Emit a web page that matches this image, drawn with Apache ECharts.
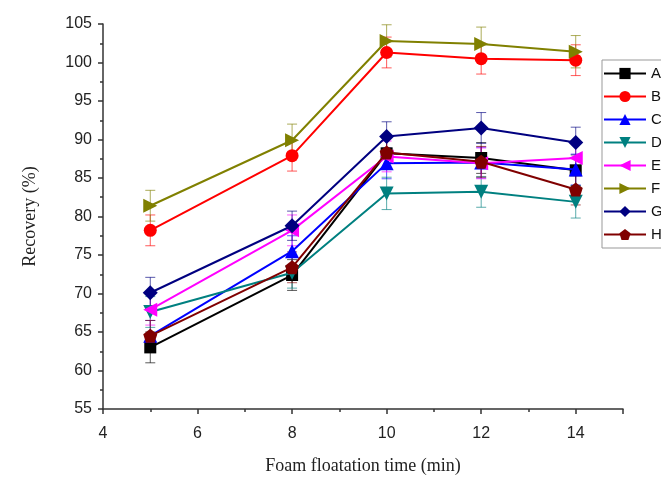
<!DOCTYPE html>
<html>
<head>
<meta charset="utf-8">
<script src="https://cdn.jsdelivr.net/npm/echarts@6/dist/echarts.min.js"></script>
<style>html,body{margin:0;padding:0;background:#fff}#c{width:661px;height:480px}</style>
</head>
<body>
<div id="c"></div>
<script>
const times = [5, 8, 10, 12, 14];
const seriesNames = ['A', 'B', 'C', 'D', 'E', 'F', 'G', 'H'];
const A = [63.0, 72.4, 88.2, 87.6, 86.0];
const B = [78.2, 87.9, 101.3, 100.5, 100.3];
const C = [64.5, 75.5, 86.9, 87.0, 86.1];
const D = [67.6, 72.7, 83.0, 83.2, 81.9];
const E = [67.9, 78.2, 87.8, 86.9, 87.6];
const F = [81.4, 89.9, 102.8, 102.4, 101.4];
const G = [70.1, 78.8, 90.4, 91.5, 89.6];
const H = [64.5, 73.4, 88.3, 87.1, 83.5];
const errA = [2.0, 2.0, 2.0, 2.0, 2.0];
const errB = [2.0, 2.0, 2.0, 2.0, 2.0];
const errC = [2.0, 2.0, 2.0, 2.0, 2.0];
const errD = [2.0, 2.0, 2.1, 2.0, 2.1];
const errE = [2.0, 2.0, 2.0, 2.0, 2.0];
const errF = [2.0, 2.1, 2.1, 2.2, 2.1];
const errG = [2.0, 1.9, 1.9, 2.0, 2.0];
const errH = [2.0, 2.0, 2.0, 2.0, 2.0];
const xTicks = [4, 6, 8, 10, 12, 14];
const yTicks = [55, 60, 65, 70, 75, 80, 85, 90, 95, 100, 105];

const values = [A, B, C, D, E, F, G, H];
const errors = [errA, errB, errC, errD, errE, errF, errG, errH];
const colors = ['#000000', '#ff0000', '#0000ff', '#008080', '#ff00ff', '#808000', '#000080', '#800000'];
const pentagon = 'path://M0,-10 L9.51,-3.09 L5.88,8.09 L-5.88,8.09 L-9.51,-3.09 Z';
const symbols = ['rect', 'circle', 'triangle', 'triangle', 'triangle', 'triangle', 'diamond', pentagon];
const rotations = [0, 0, 0, 180, 90, -90, 0, 0];
const sizes = [12, 13, 14, 14, 14, 14, 15, 14];

const series = [];
values.forEach((vals, i) => {
  series.push({
    type: 'custom',
    name: seriesNames[i] + '_err',
    z: 1,
    silent: true,
    data: times.map((t, k) => [t, vals[k] - errors[i][k], vals[k] + errors[i][k]]),
    renderItem: function (params, api) {
      const lo = api.coord([api.value(0), api.value(1)]);
      const hi = api.coord([api.value(0), api.value(2)]);
      const w = 5;
      const st = { stroke: colors[i], lineWidth: 1, opacity: 0.65 };
      return {
        type: 'group',
        children: [
          { type: 'line', shape: { x1: lo[0], y1: lo[1], x2: hi[0], y2: hi[1] }, style: st },
          { type: 'line', shape: { x1: lo[0] - w, y1: lo[1], x2: lo[0] + w, y2: lo[1] }, style: st },
          { type: 'line', shape: { x1: hi[0] - w, y1: hi[1], x2: hi[0] + w, y2: hi[1] }, style: st }
        ]
      };
    }
  });
});
values.forEach((vals, i) => {
  series.push({
    type: 'line',
    name: seriesNames[i],
    z: 2 + i,
    data: times.map((t, k) => [t, vals[k]]),
    symbol: symbols[i],
    symbolRotate: rotations[i],
    symbolSize: sizes[i],
    showAllSymbol: true,
    color: colors[i],
    lineStyle: { width: 2, color: colors[i] },
    itemStyle: { color: colors[i] },
    emphasis: { disabled: true },
    animation: false
  });
});

const chart = echarts.init(document.getElementById('c'), null, { renderer: 'canvas' });
chart.setOption({
  animation: false,
  backgroundColor: '#ffffff',
  grid: { left: 103, right: 38, top: 24, bottom: 69, containLabel: false },
  legend: {
    data: seriesNames,
    orient: 'vertical',
    left: 602,
    top: 60,
    padding: [6, 6, 6, 1],
    itemWidth: 42,
    itemHeight: 14,
    itemGap: 8,
    borderColor: '#999999',
    borderWidth: 1,
    textStyle: { fontFamily: 'Liberation Sans', fontSize: 15, color: '#111' },
    selectedMode: false
  },
  xAxis: {
    type: 'value',
    min: 4,
    max: 15,
    interval: 2,
    name: 'Foam floatation time (min)',
    nameLocation: 'middle',
    nameGap: 48,
    nameTextStyle: { fontFamily: 'Liberation Serif', fontSize: 18, color: '#222' },
    axisLine: { show: true, lineStyle: { color: '#333', width: 1.5 } },
    axisTick: { show: true, length: 5, inside: false, lineStyle: { color: '#333', width: 1.5 } },
    minorTick: { show: true, splitNumber: 2, length: 3, lineStyle: { color: '#333', width: 1.5 } },
    axisLabel: {
      fontFamily: 'Liberation Sans', fontSize: 16, color: '#222', margin: 17,
      formatter: v => (xTicks.indexOf(v) >= 0 ? String(v) : '')
    },
    splitLine: { show: false }
  },
  yAxis: {
    type: 'value',
    min: 55,
    max: 105,
    interval: 5,
    name: 'Recovery (%)',
    nameLocation: 'middle',
    nameGap: 64,
    nameTextStyle: { fontFamily: 'Liberation Serif', fontSize: 18, color: '#222' },
    axisLine: { show: true, lineStyle: { color: '#333', width: 1.5 } },
    axisTick: { show: true, length: 5, inside: false, lineStyle: { color: '#333', width: 1.5 } },
    minorTick: { show: true, splitNumber: 2, length: 3, lineStyle: { color: '#333', width: 1.5 } },
    axisLabel: {
      fontFamily: 'Liberation Sans', fontSize: 16, color: '#222', margin: 11,
      formatter: v => (yTicks.indexOf(v) >= 0 ? String(v) : '')
    },
    splitLine: { show: false }
  },
  series: series
});
</script>
</body>
</html>
